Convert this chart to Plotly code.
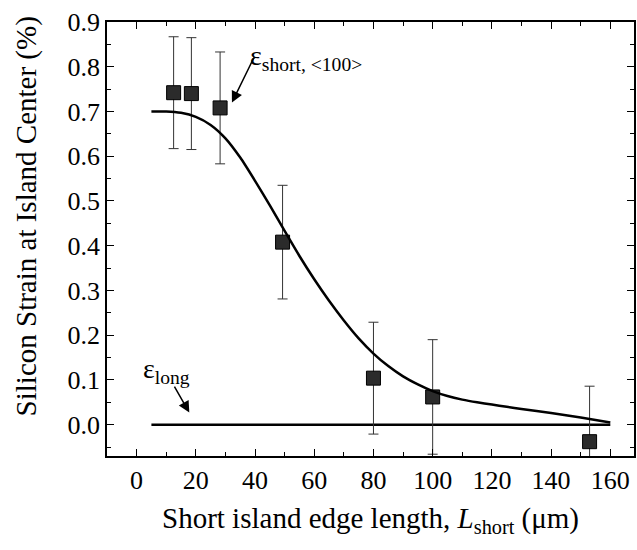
import plotly.graph_objects as go

# Measured data points
x_pts = [12.5, 18.5, 28.2, 49.3, 80, 100, 153]
y_pts = [0.742, 0.740, 0.708, 0.408, 0.104, 0.062, -0.038]
err = [0.125, 0.125, 0.125, 0.127, 0.125, 0.128, 0.124]

# Model curve (short direction)
x_fit = [5, 10, 15, 20, 25, 30, 35, 40, 45, 50, 55, 60, 65, 70, 75, 80, 85, 90,
         95, 100, 105, 110, 115, 120, 125, 130, 140, 150, 160]
y_fit = [0.700, 0.700, 0.697, 0.688, 0.670, 0.640, 0.597, 0.545, 0.490, 0.433,
         0.377, 0.325, 0.277, 0.233, 0.193, 0.159, 0.131, 0.108, 0.090, 0.075,
         0.064, 0.056, 0.050, 0.045, 0.040, 0.035, 0.026, 0.016, 0.005]

# Long direction
x_long = [5, 160]
y_long = [0.0, 0.0]

x_ticks = [0, 20, 40, 60, 80, 100, 120, 140, 160]
y_ticks = [0.0, 0.1, 0.2, 0.3, 0.4, 0.5, 0.6, 0.7, 0.8, 0.9]
y_tick_labels = ["0.0", "0.1", "0.2", "0.3", "0.4", "0.5", "0.6", "0.7", "0.8", "0.9"]

FONT = "Liberation Serif"

fig = go.Figure()

fig.add_trace(go.Scatter(
    x=x_long, y=y_long, mode="lines",
    line=dict(color="black", width=2.5), showlegend=False))

fig.add_trace(go.Scatter(
    x=x_pts, y=y_pts, mode="markers",
    marker=dict(symbol="square", size=14, color="#2b2b2b",
                line=dict(color="black", width=1)),
    error_y=dict(type="data", array=err, visible=True, color="#333333",
                 thickness=1, width=5),
    showlegend=False))

fig.add_trace(go.Scatter(
    x=x_fit, y=y_fit, mode="lines", line_shape="spline",
    line=dict(color="black", width=2.5, smoothing=0.6), showlegend=False))

axis_common = dict(
    showline=True, linecolor="black", linewidth=1.5, mirror="ticks",
    ticks="inside", ticklen=7, tickwidth=1.2, tickcolor="black",
    showgrid=False, zeroline=False,
    tickfont=dict(family=FONT, size=26, color="black"),
)

fig.update_xaxes(
    range=[-10, 168], tickvals=x_ticks,
    minor=dict(dtick=10, tick0=0, ticks="inside", ticklen=4, tickcolor="black"),
    title=dict(text="Short island edge length, <i>L</i><sub>short</sub> (μm)",
               font=dict(family=FONT, size=29, color="black"), standoff=14),
    **axis_common)

fig.update_yaxes(
    range=[-0.07, 0.9], tickvals=y_ticks, ticktext=y_tick_labels,
    minor=dict(dtick=0.05, tick0=0, ticks="inside", ticklen=4, tickcolor="black"),
    **axis_common)

annotations = [
    dict(x=-0.151, y=0.553, xref="paper", yref="paper", textangle=-90,
         xanchor="center", yanchor="middle", showarrow=False,
         text="Silicon Strain at Island Center (%)",
         font=dict(family=FONT, size=29, color="black")),
    dict(x=32.2, y=0.72, ax=23, ay=-47, xref="x", yref="y",
         text=" ", font=dict(size=1), showarrow=True, arrowhead=2,
         arrowsize=1.5, arrowwidth=1.5,
         arrowcolor="black", standoff=0, startstandoff=0),
    dict(x=17.8, y=0.027, ax=-16, ay=-28, xref="x", yref="y",
         text=" ", font=dict(size=1), showarrow=True, arrowhead=2,
         arrowsize=1.5, arrowwidth=1.5,
         arrowcolor="black", standoff=0, startstandoff=0),
    dict(x=37.5, y=0.82, xref="x", yref="y", xanchor="left", yanchor="middle",
         text="ε<sub>short, &lt;100&gt;</sub>", showarrow=False,
         font=dict(family=FONT, size=28, color="black")),
    dict(x=1.5, y=0.12, xref="x", yref="y", xanchor="left", yanchor="middle",
         text="ε<sub>long</sub>", showarrow=False,
         font=dict(family=FONT, size=28, color="black")),
]

fig.update_layout(
    width=637, height=550,
    margin=dict(l=107, r=1, t=22, b=94),
    plot_bgcolor="white", paper_bgcolor="white",
    annotations=annotations,
    font=dict(family=FONT, color="black"),
)

fig.write_html("out.html")
